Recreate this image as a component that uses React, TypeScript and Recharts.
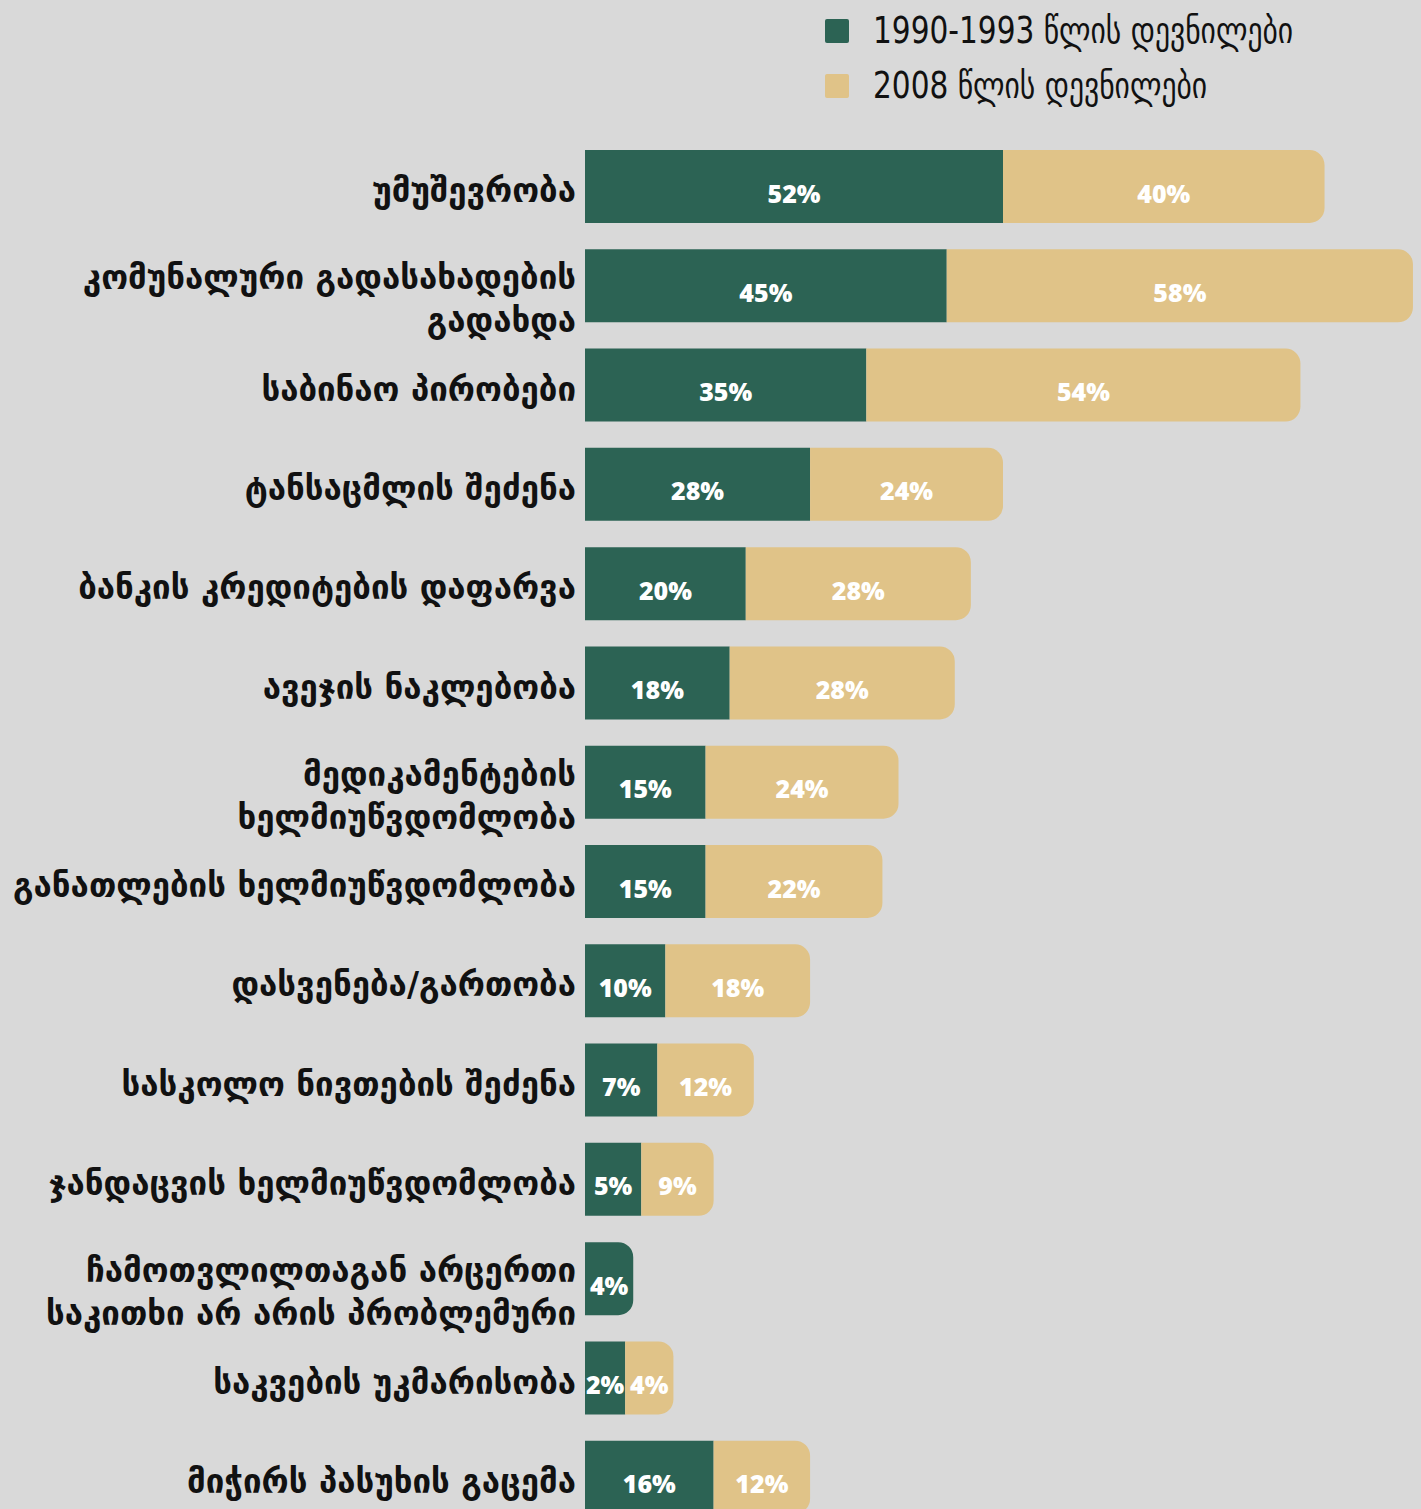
import React from 'react';
import { BarChart, Bar, XAxis, YAxis, LabelList, Legend } from 'recharts';

const GREEN = '#2c6354';
const TAN = '#e0c388';
const BG = '#d9d9d9';

// row labels, "\n" marks a line break
const categories = [
  'უმუშევრობა',
  'კომუნალური გადასახადების\nგადახდა',
  'საბინაო პირობები',
  'ტანსაცმლის შეძენა',
  'ბანკის კრედიტების დაფარვა',
  'ავეჯის ნაკლებობა',
  'მედიკამენტების\nხელმიუწვდომლობა',
  'განათლების ხელმიუწვდომლობა',
  'დასვენება/გართობა',
  'სასკოლო ნივთების შეძენა',
  'ჯანდაცვის ხელმიუწვდომლობა',
  'ჩამოთვლილთაგან არცერთი\nსაკითხი არ არის პრობლემური',
  'საკვების უკმარისობა',
  'მიჭირს პასუხის გაცემა',
];

// printed percentages
const old90Pct = [52, 45, 35, 28, 20, 18, 15, 15, 10, 7, 5, 4, 2, 16];
const new08Pct = [40, 58, 54, 24, 28, 28, 24, 22, 18, 12, 9, 0, 4, 12];

// bar lengths as drawn (the smallest segments are widened so the labels fit)
const old90Bar = [52, 45, 35, 28, 20, 18, 15, 15, 10, 9, 7, 6, 5, 16];
const new08Bar = [40, 58, 54, 24, 28, 28, 24, 22, 18, 12, 9, 0, 6, 12];

const seriesNames = ['1990-1993 წლის დევნილები', '2008 წლის დევნილები'];

const data = categories.map((name, i) => ({
  name,
  old90Bar: old90Bar[i],
  new08Bar: new08Bar[i],
  old90Pct: old90Pct[i],
  new08Pct: new08Pct[i],
}));

const RoundedBar = (props: any) => {
  const { x, y, width, height, fill, round } = props;
  if (!width || width <= 0) return null;
  const r = round ? Math.min(15, width / 2, height / 2) : 0;
  const x2 = x + width;
  const d = `M${x},${y} H${x2 - r} A${r},${r} 0 0 1 ${x2},${y + r} V${y + height - r} A${r},${r} 0 0 1 ${x2 - r},${y + height} H${x} Z`;
  return <path d={d} fill={fill} />;
};

const CategoryTick = (props: any) => {
  const { x, y, payload } = props;
  const lines = String(payload.value).split('\n');
  const offsets = lines.length === 1 ? [4] : [-8, 35];
  return (
    <g>
      {lines.map((line, i) => (
        <text
          key={i}
          x={x - 1}
          y={y + offsets[i]}
          textAnchor="end"
          dominantBaseline="central"
          fontFamily="'DejaVu Sans', sans-serif"
          fontWeight={700}
          fontSize={33}
          fill="#111"
        >
          {line}
        </text>
      ))}
    </g>
  );
};

const renderValue = (props: any) => {
  const { x, y, width, height, value } = props;
  if (!value) return null;
  return (
    <text
      x={x + width / 2}
      y={y + height / 2 + 6}
      textAnchor="middle"
      dominantBaseline="central"
      fill="#ffffff"
      fontFamily="'Open Sans', sans-serif"
      fontWeight={800}
      fontSize={25}
    >
      {value}%
    </text>
  );
};

const renderLegend = (props: any) => {
  const items = props.payload || [];
  return (
    <svg width={1421} height={110}>
      {items.map((item: any, i: number) => (
        <g key={i}>
          <rect x={825} y={19 + i * 55} width={24} height={24} rx={2} fill={item.color} />
          <g transform={`translate(873, ${30 + i * 55}) scale(0.8, 1)`}>
            <text
              x={0}
              y={0}
              dominantBaseline="central"
              fontFamily="'DejaVu Sans', sans-serif"
              fontSize={37}
              fill="#111"
            >
              {item.value}
            </text>
          </g>
        </g>
      ))}
    </svg>
  );
};

export default function App() {
  return (
    <div
      style={{
        position: 'absolute',
        top: 0,
        left: 0,
        width: 1421,
        height: 1509,
        overflow: 'hidden',
        background: BG,
      }}
    >
      <BarChart
        layout="vertical"
        width={1421}
        height={1530}
        data={data}
        margin={{ top: 137, right: 0, bottom: 3, left: 0 }}
        barSize={73}
      >
        <XAxis type="number" domain={[0, 104]} hide />
        <YAxis
          type="category"
          dataKey="name"
          width={585}
          axisLine={false}
          tickLine={false}
          interval={0}
          tick={<CategoryTick />}
        />
        <Legend
          layout="horizontal"
          verticalAlign="middle"
          align="center"
          content={renderLegend}
          wrapperStyle={{ top: 0, left: 0, width: 1421, height: 110 }}
        />
        <Bar
          dataKey="old90Bar"
          name={seriesNames[0]}
          stackId="a"
          fill={GREEN}
          isAnimationActive={false}
          shape={(p: any) => <RoundedBar {...p} round={p.payload.new08Bar === 0} />}
        >
          <LabelList dataKey="old90Pct" content={renderValue} />
        </Bar>
        <Bar
          dataKey="new08Bar"
          name={seriesNames[1]}
          stackId="a"
          fill={TAN}
          isAnimationActive={false}
          shape={(p: any) => <RoundedBar {...p} round />}
        >
          <LabelList dataKey="new08Pct" content={renderValue} />
        </Bar>
      </BarChart>
    </div>
  );
}
